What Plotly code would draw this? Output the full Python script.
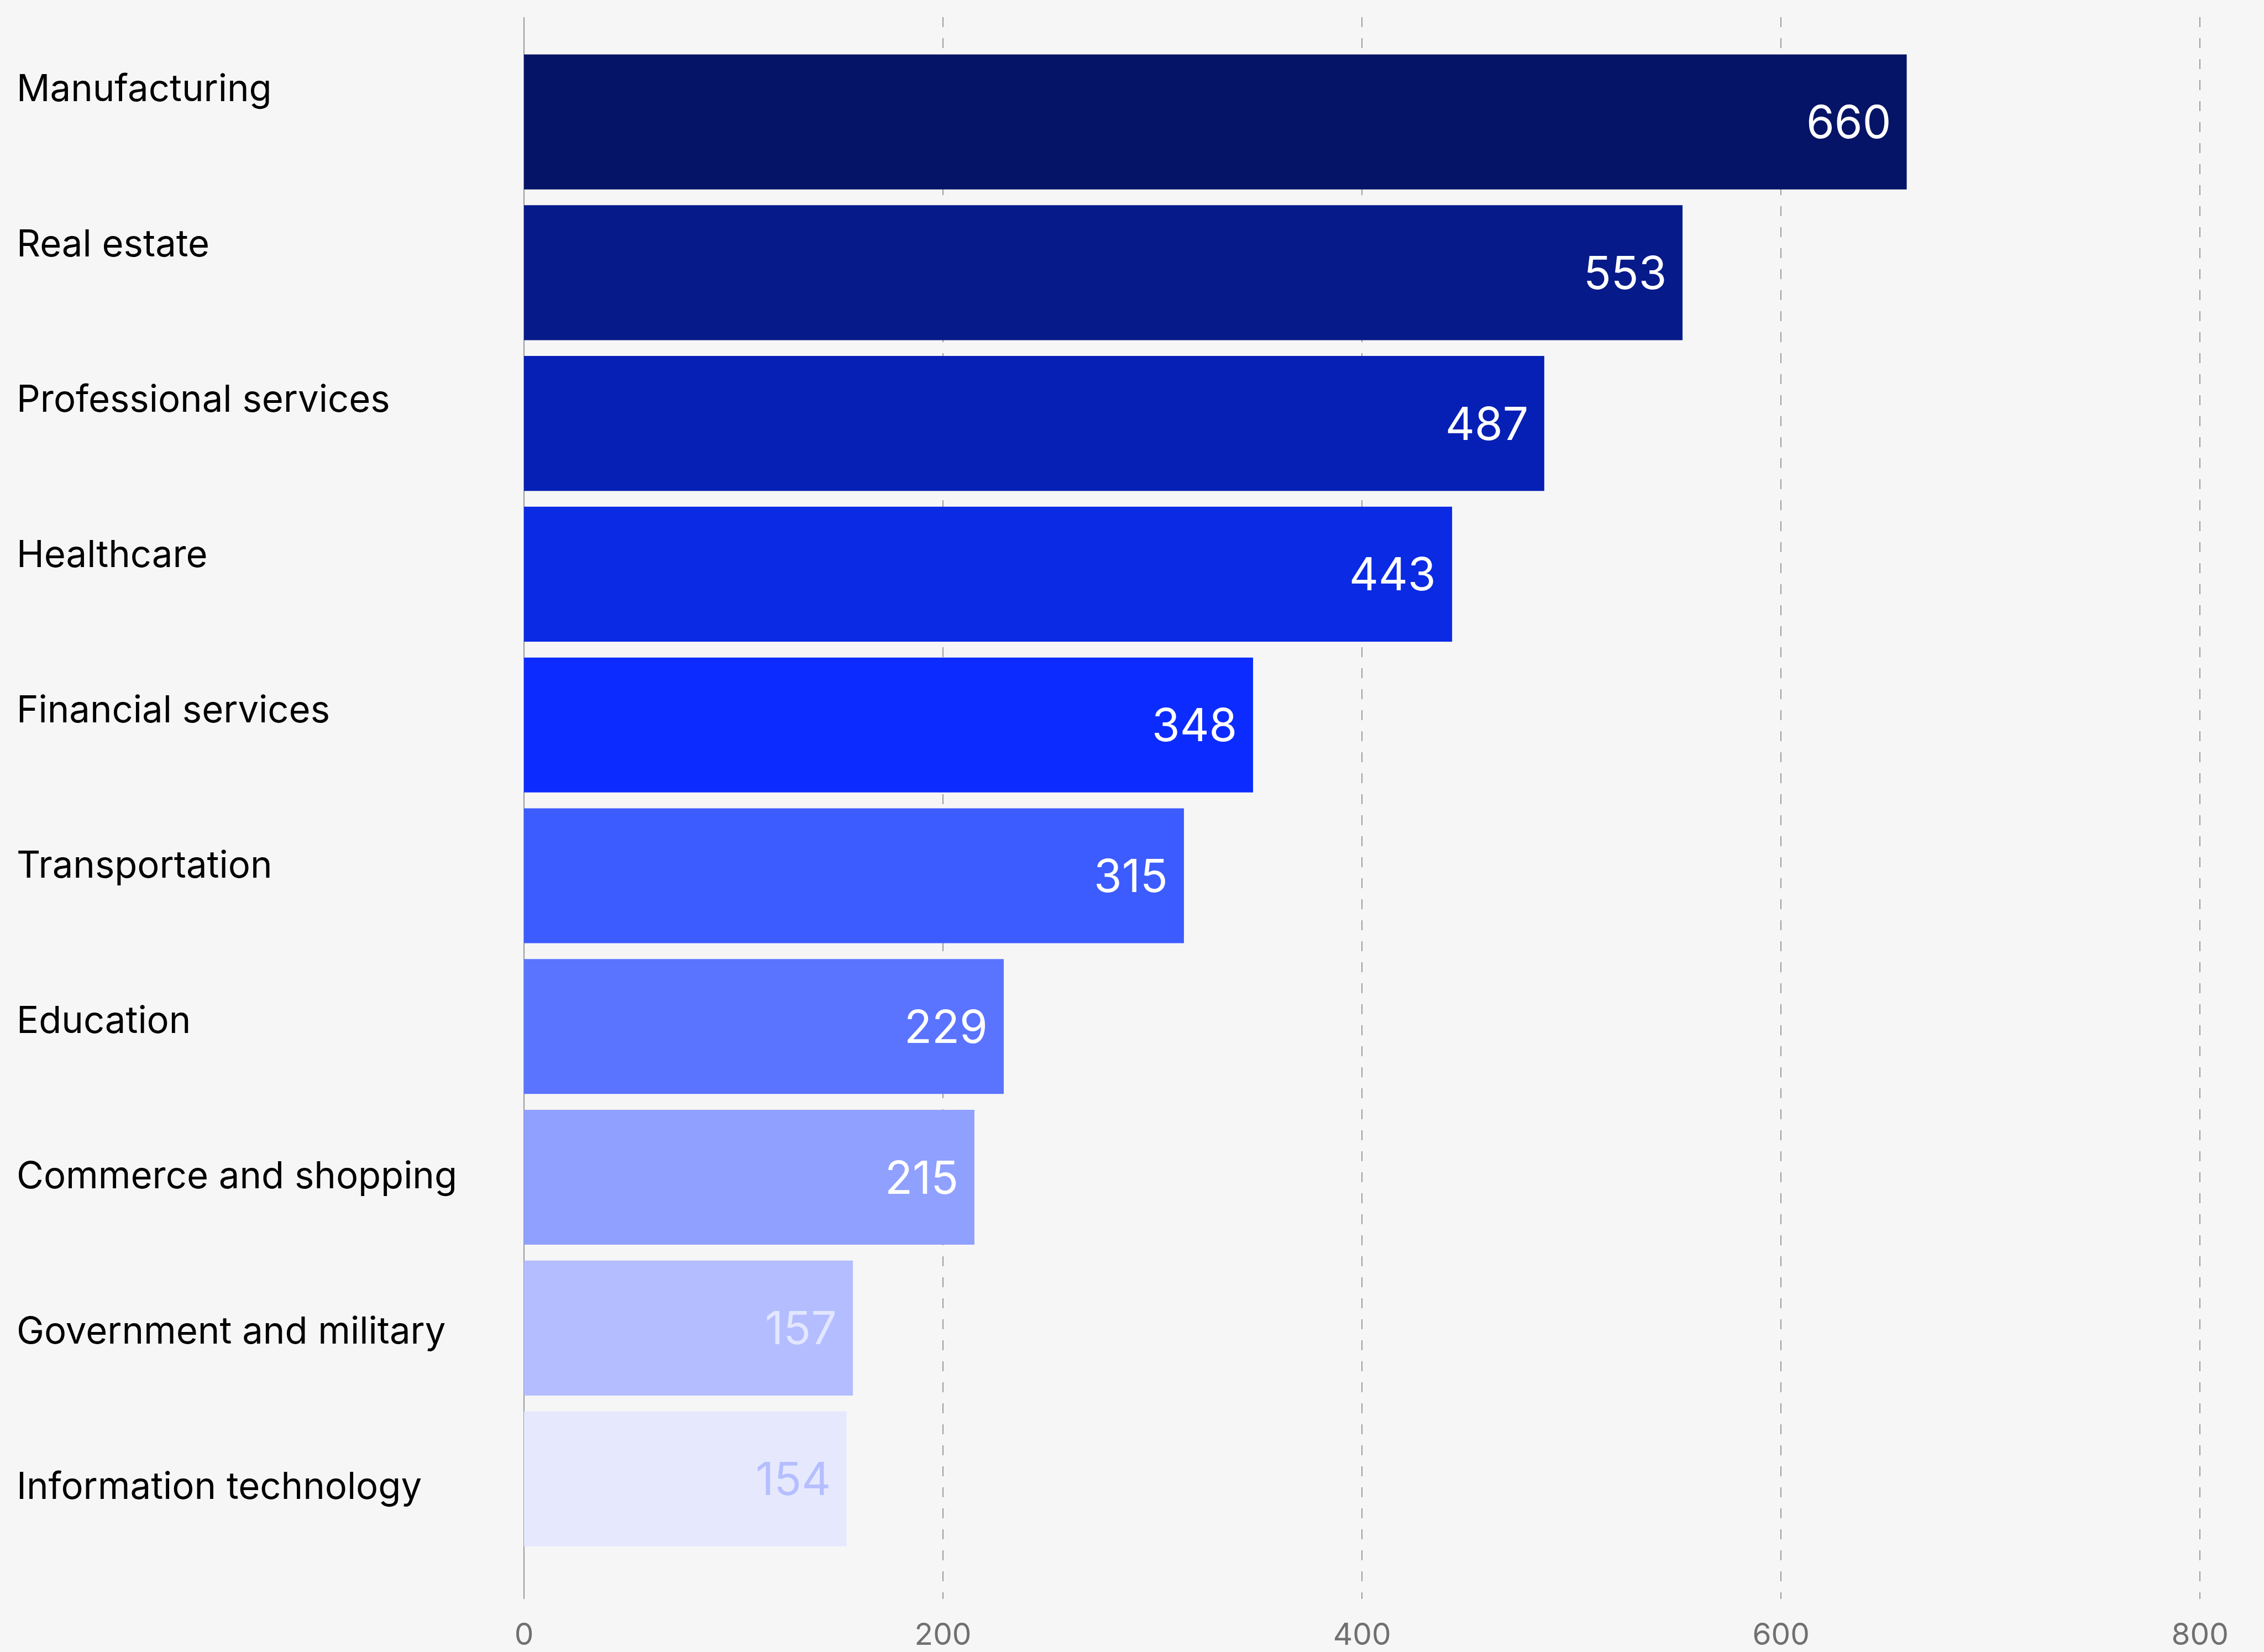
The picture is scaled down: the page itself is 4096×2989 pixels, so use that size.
import plotly.graph_objects as go

# Data
categories = [
    "Manufacturing", "Real estate", "Professional services", "Healthcare",
    "Financial services", "Transportation", "Education",
    "Commerce and shopping", "Government and military", "Information technology",
]
values = [660, 553, 487, 443, 348, 315, 229, 215, 157, 154]
bar_colors = [
    "#051466", "#061a8a", "#0620b5", "#0a2ae3", "#0c2cff",
    "#3c5cff", "#5a74ff", "#8fa0ff", "#b3bdff", "#e6e9fe",
]
value_label_colors = [
    "#ffffff", "#ffffff", "#ffffff", "#ffffff", "#ffffff",
    "#ffffff", "#ffffff", "#ffffff", "#e2e6ff", "#b5bfff",
]
x_ticks = [0, 200, 400, 600, 800]

W, H = 4096, 2989
FONT = "Inter"
BG = "#f6f6f6"

margin_l, margin_r, margin_t, margin_b = 948, 93, 31, 96
plot_w = W - margin_l - margin_r

fig = go.Figure()
fig.add_trace(go.Bar(
    x=values,
    y=categories,
    orientation="h",
    marker=dict(color=bar_colors, line=dict(width=0)),
    hoverinfo="skip",
    showlegend=False,
))

annotations = []
# value labels, right-aligned inside each bar end
for cat, v, c in zip(categories, values, value_label_colors):
    annotations.append(dict(
        x=v, y=cat, xref="x", yref="y",
        text=str(v), showarrow=False,
        xanchor="right", yanchor="middle", xshift=-27, yshift=0,
        font=dict(family=FONT, size=82, color=c),
    ))
# category labels, left-aligned at the page edge, on their own scale
for i, cat in enumerate(categories):
    annotations.append(dict(
        x=(28 - margin_l) / plot_w, y=i, xref="paper", yref="y2",
        text=cat, showarrow=False,
        xanchor="left", yanchor="middle",
        font=dict(family=FONT, size=67, color="#000000"),
    ))

fig.update_layout(
    width=W, height=H,
    paper_bgcolor=BG, plot_bgcolor=BG,
    margin=dict(l=margin_l, r=margin_r, t=margin_t, b=margin_b, pad=0, autoexpand=False),
    bargap=0.105,
    font=dict(family=FONT),
    xaxis=dict(
        range=[0, 806],
        tickvals=x_ticks,
        ticktext=[str(t) for t in x_ticks],
        ticks="",
        showgrid=True,
        gridcolor="#9c9c9c",
        gridwidth=2,
        griddash="18px,20px",
        zeroline=True,
        zerolinecolor="#999999",
        zerolinewidth=2,
        showline=False,
        tickfont=dict(family=FONT, size=55, color="#707070"),
        ticklabelstandoff=27,
        automargin=False,
        fixedrange=True,
    ),
    yaxis=dict(
        type="category",
        categoryarray=categories,
        range=[9.797, -0.695],
        showticklabels=False,
        ticks="",
        showgrid=False,
        zeroline=False,
        showline=False,
        automargin=False,
        fixedrange=True,
    ),
    yaxis2=dict(
        overlaying="y",
        range=[9.731, -0.454],
        visible=False,
        automargin=False,
        fixedrange=True,
    ),
    annotations=annotations,
)

fig.write_html("out.html", config={"displayModeBar": False})
